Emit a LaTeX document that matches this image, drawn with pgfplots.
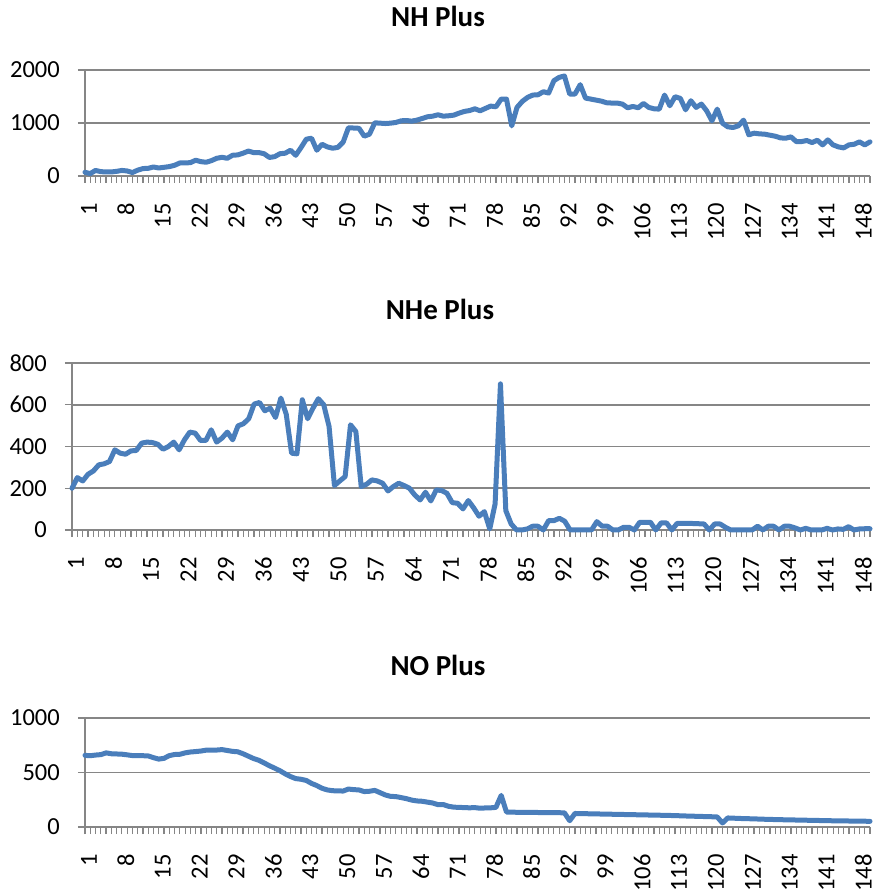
\documentclass[border=0pt]{standalone}
\usepackage{fontspec}
\setmainfont{Carlito}
\usepackage{pgfplots}
\usepackage{pgfplotstable}
\pgfplotsset{compat=1.18}
\definecolor{axgrey}{RGB}{134,134,134}
\definecolor{excelblue}{RGB}{74,126,187}
\newcommand{\ticksize}{\fontsize{24.5}{28}\selectfont}
\newcommand{\titlesize}{\fontsize{29}{34}\selectfont\bfseries}

\pgfplotstableread{
x y
1 70
2 45
3 105
4 82
5 76
6 76
7 88
8 105
9 95
10 65
11 110
12 140
13 145
14 170
15 151
16 164
17 177
18 202
19 246
20 246
21 252
22 297
23 271
24 259
25 290
26 334
27 353
28 334
29 391
30 398
31 430
32 470
33 442
34 442
35 420
36 350
37 365
38 420
39 430
40 486
41 391
42 536
43 694
44 713
45 486
46 599
47 549
48 524
49 540
50 640
51 910
52 905
53 900
54 751
55 789
56 1003
57 997
58 990
59 997
60 1010
61 1041
62 1047
63 1035
64 1054
65 1085
66 1117
67 1129
68 1155
69 1129
70 1136
71 1148
72 1186
73 1218
74 1235
75 1268
76 1230
77 1275
78 1319
79 1306
80 1451
81 1451
82 946
83 1294
84 1407
85 1483
86 1527
87 1533
88 1590
89 1565
90 1798
91 1861
92 1887
93 1546
94 1546
95 1723
96 1470
97 1451
98 1432
99 1413
100 1382
101 1376
102 1376
103 1357
104 1287
105 1312
106 1287
107 1369
108 1294
109 1268
110 1262
111 1527
112 1325
113 1496
114 1464
115 1249
116 1420
117 1294
118 1357
119 1230
120 1041
121 1262
122 997
123 928
124 915
125 946
126 1054
127 776
128 808
129 795
130 789
131 770
132 751
133 719
134 713
135 738
136 650
137 650
138 669
139 631
140 675
141 587
142 681
143 587
144 549
145 530
146 587
147 599
148 644
149 587
150 644
}\nhdata

\pgfplotstableread{
x y
1 200
2 251
3 235
4 267
5 283
6 312
7 317
8 328
9 384
10 368
11 363
12 379
13 381
14 416
15 421
16 419
17 411
18 387
19 400
20 421
21 384
22 432
23 469
24 464
25 429
26 429
27 480
28 421
29 440
30 469
31 432
32 499
33 509
34 533
35 603
36 611
37 571
38 584
39 539
40 632
41 555
42 368
43 365
44 624
45 533
46 584
47 629
48 600
49 496
50 213
51 235
52 256
53 504
54 472
55 208
56 219
57 240
58 235
59 224
60 187
61 208
62 224
63 213
64 200
65 168
66 144
67 181
68 139
69 192
70 189
71 176
72 131
73 128
74 101
75 141
76 106
77 66
78 88
79 5
80 125
81 700
82 93
83 29
84 0
85 0
86 5
87 18
88 18
89 0
90 45
91 45
92 56
93 42
94 0
95 0
96 0
97 0
98 0
99 40
100 18
101 18
102 0
103 0
104 13
105 13
106 0
107 37
108 37
109 37
110 0
111 34
112 34
113 0
114 32
115 32
116 32
117 31
118 30
119 29
120 0
121 29
122 29
123 13
124 0
125 0
126 0
127 0
128 0
129 18
130 0
131 18
132 18
133 0
134 18
135 18
136 10
137 0
138 8
139 0
140 0
141 0
142 8
143 0
144 5
145 3
146 16
147 0
148 5
149 6
150 6
}\nhedata

\pgfplotstableread{
x y
1 657
2 654
3 660
4 664
5 680
6 672
7 670
8 668
9 662
10 655
11 655
12 654
13 652
14 636
15 623
16 630
17 655
18 665
19 667
20 680
21 688
22 692
23 697
24 705
25 706
26 706
27 710
28 702
29 694
30 690
31 672
32 650
33 628
34 612
35 588
36 562
37 540
38 516
39 488
40 463
41 444
42 438
43 427
44 400
45 380
46 355
47 340
48 333
49 331
50 330
51 348
52 343
53 340
54 325
55 328
56 336
57 315
58 294
59 281
60 279
61 270
62 260
63 247
64 239
65 236
66 228
67 220
68 205
69 206
70 190
71 182
72 180
73 178
74 176
75 178
76 172
77 175
78 176
79 180
80 290
81 137
82 136
83 135
84 135
85 134
86 134
87 133
88 133
89 132
90 132
91 131
92 130
93 58
94 124
95 123
96 122
97 121
98 120
99 119
100 118
101 117
102 116
103 115
104 114
105 113
106 112
107 111
108 110
109 109
110 108
111 107
112 106
113 104
114 103
115 101
116 100
117 98
118 97
119 95
120 94
121 92
122 37
123 83
124 81
125 79
126 77
127 76
128 74
129 73
130 71
131 70
132 68
133 67
134 66
135 65
136 64
137 63
138 62
139 61
140 60
141 59
142 58
143 57
144 56
145 56
146 55
147 54
148 53
149 53
150 52
}\nodata

\pgfplotsset{
  excel/.style={
    scale only axis,
    anchor=south west,
    xmin=1, xmax=150,
    ymin=0,
    axis x line*=bottom,
    axis y line*=left,
    xtick pos=left, ytick pos=left,
    axis line style={draw=axgrey, line width=1.5pt, -},
    ymajorgrids,
    major grid style={draw=axgrey, line width=1.5pt},
    xtick={1,8,...,148},
    minor xtick={1,...,150},
    tick align=outside,
    major tick length=7pt,
    minor tick length=7pt,
    tick style={draw=axgrey, line width=1.2pt},
    xticklabel shift=20pt,
    xticklabel style={rotate=90, anchor=east, font=\ticksize, inner sep=0pt, yshift=-4pt},
    yticklabel style={font=\ticksize, anchor=east, inner sep=0pt, xshift=-18pt},
    /pgf/number format/assume math mode=true,
    /pgf/number format/1000 sep={},
    clip=false,
  },
  excelline/.style={draw=excelblue, line width=5pt, line join=round, line cap=round, mark=none},
}

\begin{document}
\begin{tikzpicture}[x=1pt,y=1pt]
\useasboundingbox (0,0) rectangle (878,895);

% NH Plus
\node[font=\titlesize] at (438,879) {NH Plus};
\begin{axis}[excel, at={(85pt,719pt)}, width=785pt, height=106pt,
  ymax=2000, ytick={0,1000,2000}]
\addplot[excelline] table[x=x,y=y] {\nhdata};
\end{axis}

% NHe Plus
\node[font=\titlesize] at (440,586) {NHe Plus};
\begin{axis}[excel, at={(72pt,365pt)}, width=798pt, height=167pt,
  ymax=800, ytick={0,200,...,800}]
\addplot[excelline] table[x=x,y=y] {\nhedata};
\end{axis}

% NO Plus
\node[font=\titlesize] at (438,230) {NO Plus};
\begin{axis}[excel, at={(85pt,68pt)}, width=785pt, height=109pt,
  ymax=1000, ytick={0,500,1000}]
\addplot[excelline] table[x=x,y=y] {\nodata};
\end{axis}
\end{tikzpicture}
\end{document}
